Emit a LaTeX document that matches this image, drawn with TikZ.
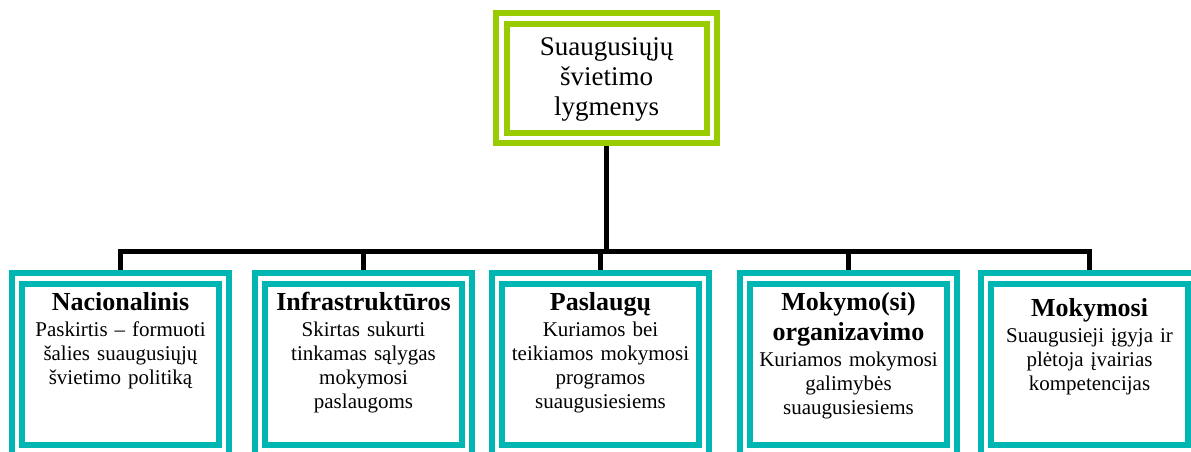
\documentclass[tikz,border=0pt]{standalone}
\usepackage{fontspec}
\setmainfont{Liberation Serif}
\usetikzlibrary{positioning}

\definecolor{limegreen}{RGB}{153,204,0}
\definecolor{tealbox}{RGB}{0,182,178}
\newcommand{\titlefont}{\fontsize{26}{30}\selectfont\bfseries}

\begin{document}
\begin{tikzpicture}[x=1pt,y=-1pt,
    levelbox/.style={draw=tealbox,line width=6pt,double=white,double distance=4.5pt,
      minimum width=207pt,minimum height=172pt,inner sep=0pt,outer sep=8.25pt},
    topbox/.style={levelbox,draw=limegreen,minimum width=210.5pt,minimum height=119.5pt},
    boxtext/.style={align=center,inner sep=0pt,text width=200pt,
      font=\fontsize{21}{24}\selectfont},
    link/.style={draw=black,line width=5pt}]
  \useasboundingbox (0,0) rectangle (1191,451);

  \node[topbox]   (top) at (606.5,78) {};
  \node[levelbox] (b1)  at (120.5,364.25) {};
  \node[levelbox] (b2) [right=19.5pt of b1] {};
  \node[levelbox] (b3) [right=13.5pt of b2] {};
  \node[levelbox] (b4) [right=24.5pt of b3] {};
  \node[levelbox] (b5) [right=17.5pt of b4] {};

  % linijos
  \coordinate (bus) at (0,251);
  \draw[link] (top.south) -- (top.south |- bus);
  \draw[link] (b1.north) -- (b1.north |- bus) -- (b5.north |- bus) -- (b5.north);
  \foreach \b in {b2,b3,b4}
    \draw[link] (\b.north |- bus) -- (\b.north);

  \node[boxtext,font=\fontsize{27}{30}\selectfont] (toptext) [below=27pt of top.north]
    {Suaugusiųjų\\švietimo\\lygmenys};
  \node[boxtext] (t1) [below=22pt of b1.north]
    {{\titlefont Nacionalinis}\\[2pt]Paskirtis – formuoti\\šalies suaugusiųjų\\švietimo politiką};
  \node[boxtext] (t2) [below=22pt of b2.north]
    {{\titlefont Infrastruktūros}\\[2pt]Skirtas sukurti\\tinkamas sąlygas\\mokymosi\\paslaugoms};
  \node[boxtext] (t3) [below=22pt of b3.north]
    {{\titlefont Paslaugų}\\[2pt]Kuriamos bei\\teikiamos mokymosi\\programos\\suaugusiesiems};
  \node[boxtext] (t4) [below=22pt of b4.north]
    {{\titlefont Mokymo(si)}\\[6pt]{\titlefont organizavimo}\\[2pt]Kuriamos mokymosi\\galimybės\\suaugusiesiems};
  \node[boxtext] (t5) [below=28pt of b5.north]
    {{\titlefont Mokymosi}\\[2pt]Suaugusieji įgyja ir\\plėtoja įvairias\\kompetencijas};
\end{tikzpicture}
\end{document}
